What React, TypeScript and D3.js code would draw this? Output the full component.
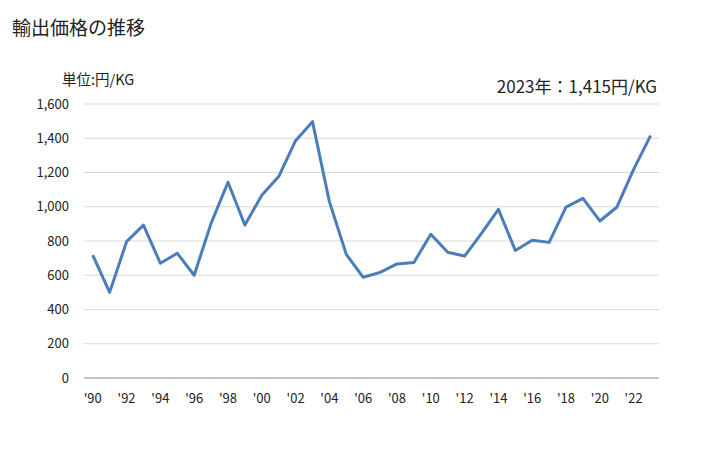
import React from "react";
import * as d3 from "d3";

const years: number[] = [
  1990, 1991, 1992, 1993, 1994, 1995, 1996, 1997, 1998, 1999,
  2000, 2001, 2002, 2003, 2004, 2005, 2006, 2007, 2008, 2009,
  2010, 2011, 2012, 2013, 2014, 2015, 2016, 2017, 2018, 2019,
  2020, 2021, 2022, 2023,
];
const prices: number[] = [
  718, 500, 796, 893, 670, 728, 600, 903, 1143, 893,
  1067, 1176, 1386, 1497, 1030, 722, 588, 617, 666, 675,
  839, 734, 712, 845, 985, 745, 804, 792, 998, 1049,
  917, 997, 1218, 1415,
];
const yTicks: number[] = [0, 200, 400, 600, 800, 1000, 1200, 1400, 1600];

const FONT = "'Noto Sans CJK JP', 'Noto Sans', sans-serif";

export default function App() {
  const W = 728;
  const H = 450;
  const left = 84.3;
  const right = 659;
  const top = 104;
  const bottom = 378;

  const x = d3
    .scaleBand<number>()
    .domain(years)
    .range([left, right])
    .paddingInner(0)
    .paddingOuter(0);
  const y = d3.scaleLinear().domain([0, 1600]).range([bottom, top]);
  const cx = (yr: number) => (x(yr) as number) + x.bandwidth() / 2;

  const line = d3
    .line<number>()
    .x((_, i) => cx(years[i]))
    .y((d) => y(d));

  const fmt = d3.format(",");

  return (
    <svg
      width={W}
      height={H}
      style={{ position: "absolute", left: 0, top: 0, background: "#fff" }}
      fontFamily={FONT}
    >
      <text x={12} y={35} fontSize={19} fill="#222">
        輸出価格の推移
      </text>
      <text x={62} y={85} fontSize={14.5} fill="#222">
        単位:円/KG
      </text>
      <text x={657} y={93} fontSize={17} fill="#222" textAnchor="end">
        2023年：1,415円/KG
      </text>

      {yTicks.map((t) => (
        <g key={t}>
          {t !== 0 && (
            <line
              x1={left}
              x2={right}
              y1={y(t)}
              y2={y(t)}
              stroke="#d9d9d9"
              strokeWidth={1}
            />
          )}
          <text
            x={69}
            y={y(t)}
            dy="0.35em"
            fontSize={13}
            fill="#222"
            textAnchor="end"
          >
            {fmt(t)}
          </text>
        </g>
      ))}
      <line
        x1={left}
        x2={right}
        y1={bottom}
        y2={bottom}
        stroke="#868686"
        strokeWidth={1}
      />

      {years
        .filter((yr) => yr % 2 === 0)
        .map((yr) => (
          <text
            key={yr}
            x={cx(yr)}
            y={398}
            dy="0.35em"
            fontSize={13}
            fill="#222"
            textAnchor="middle"
          >
            {"'" + String(yr).slice(2)}
          </text>
        ))}

      <path
        d={line(prices) || ""}
        fill="none"
        stroke="#4a7ebb"
        strokeWidth={3}
        strokeLinejoin="round"
      />
    </svg>
  );
}
